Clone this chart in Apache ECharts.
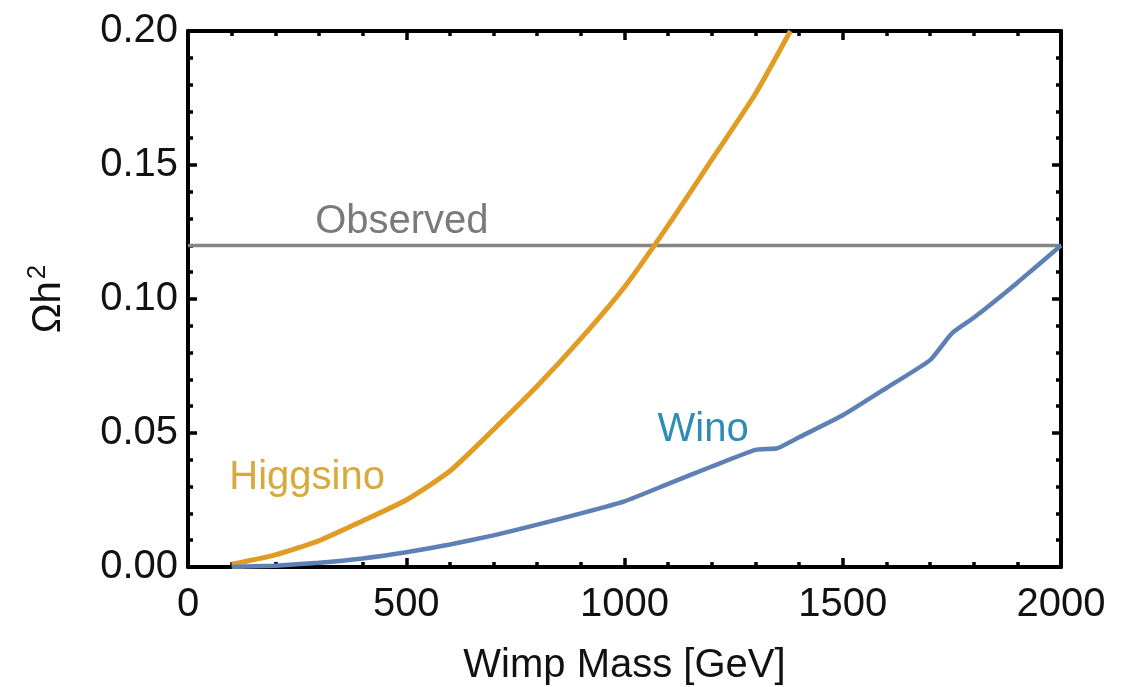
<!DOCTYPE html>
<html>
<head>
<meta charset="utf-8">
<script src="https://cdn.jsdelivr.net/npm/echarts@6/dist/echarts.min.js"></script>
<style>
  html, body { margin: 0; padding: 0; background: #fff; }
  #chart { width: 1138px; height: 687px; }
</style>
</head>
<body>
<div id="chart"></div>
<script>
// Relic abundance vs. WIMP mass
const higgsinoMass = [100, 200, 300, 400, 500, 600, 700, 800, 900, 1000, 1100, 1200, 1300, 1380];
const higgsinoOmega = [0.001, 0.0045, 0.0098, 0.0172, 0.025, 0.0358, 0.0513, 0.0675, 0.0852, 0.1045, 0.1275, 0.152, 0.1766, 0.200];

const winoMass = [100, 200, 300, 400, 500, 600, 700, 800, 900, 1000, 1100, 1200, 1300, 1350, 1400, 1500, 1600, 1700, 1750, 1800, 1900, 2000];
const winoOmega = [0.0, 0.0005, 0.0016, 0.0032, 0.0055, 0.0084, 0.0118, 0.0158, 0.0200, 0.0245, 0.031, 0.0375, 0.0437, 0.0443, 0.0484, 0.0566, 0.0668, 0.0772, 0.0872, 0.093, 0.1061, 0.120];

const observedOmega = 0.12;
const massRange = [0, 2000];
const omegaRange = [0, 0.2];

const curveLabels = [
  { name: 'Higgsino', coord: [273, 0.0332], color: '#D8A93B' },
  { name: 'Wino', coord: [1180, 0.0511], color: '#2E8DB4' },
  { name: 'Observed', coord: [490, 0.1287], color: '#7A7A7A' }
];

const pair = (xs, ys) => xs.map((x, i) => [x, ys[i]]);

const FONT = '"Liberation Sans", Arial, Helvetica, sans-serif';
const frame = { show: true, onZero: false, lineStyle: { color: '#000', width: 4 } };
const majorTick = { show: true, inside: true, length: 9, lineStyle: { color: '#000', width: 3.5 } };
const minorTick = { show: true, splitNumber: 5, length: 5, lineStyle: { color: '#000', width: 3.5 } };

const chart = echarts.init(document.getElementById('chart'), null, { renderer: 'canvas' });

chart.setOption({
  animation: false,
  backgroundColor: '#ffffff',
  grid: { left: 188, right: 77, top: 31, bottom: 120, containLabel: false, outerBoundsMode: 'none' },
  xAxis: [
    {
      type: 'value', position: 'bottom', min: massRange[0], max: massRange[1], interval: 500,
      axisLine: frame, axisTick: majorTick, minorTick: minorTick, splitLine: { show: false },
      axisLabel: { fontFamily: FONT, fontSize: 40, color: '#111', margin: 18, formatter: v => String(v) },
      name: 'Wimp Mass [GeV]', nameLocation: 'middle', nameGap: 79,
      nameTextStyle: { fontFamily: FONT, fontSize: 40, color: '#111' }
    },
    {
      type: 'value', position: 'top', min: massRange[0], max: massRange[1], interval: 500,
      axisLine: frame, axisTick: majorTick, minorTick: minorTick, splitLine: { show: false },
      axisLabel: { show: false }
    }
  ],
  yAxis: [
    {
      type: 'value', position: 'left', min: omegaRange[0], max: omegaRange[1], interval: 0.05,
      axisLine: frame, axisTick: majorTick, minorTick: minorTick, splitLine: { show: false },
      axisLabel: { fontFamily: FONT, fontSize: 40, color: '#111', margin: 10,
                   formatter: v => v.toFixed(2) },
      name: 'Ωh{sup|2}', nameLocation: 'middle', nameRotate: 90, nameGap: 115,
      nameTextStyle: { fontFamily: FONT, fontSize: 40, color: '#111',
                       rich: { sup: { fontFamily: FONT, fontSize: 26, color: '#111', verticalAlign: 'top', padding: [0, 0, 22, 2] } } }
    },
    {
      type: 'value', position: 'right', min: omegaRange[0], max: omegaRange[1], interval: 0.05,
      axisLine: frame, axisTick: majorTick, minorTick: minorTick, splitLine: { show: false },
      axisLabel: { show: false }
    }
  ],
  series: [
    {
      name: 'Observed', type: 'line', xAxisIndex: 0, yAxisIndex: 0,
      data: [[massRange[0], observedOmega], [massRange[1], observedOmega]],
      symbol: 'none', lineStyle: { color: '#858585', width: 3.5 }, z: 2
    },
    {
      name: 'Higgsino', type: 'line', xAxisIndex: 0, yAxisIndex: 0,
      data: pair(higgsinoMass, higgsinoOmega), symbol: 'none', clip: true, smooth: 0.2,
      lineStyle: { color: '#E19C24', width: 5 }, z: 3
    },
    {
      name: 'Wino', type: 'line', xAxisIndex: 0, yAxisIndex: 0,
      data: pair(winoMass, winoOmega), symbol: 'none', clip: true, smooth: 0.15,
      lineStyle: { color: '#5E81B5', width: 4.5 }, z: 3,
      markPoint: {
        symbol: 'circle', symbolSize: 0, silent: true,
        data: curveLabels.map(l => ({
          coord: l.coord,
          label: { show: true, position: 'inside', formatter: l.name,
                   fontFamily: FONT, fontSize: 40, color: l.color }
        }))
      }
    }
  ]
});
</script>
</body>
</html>
